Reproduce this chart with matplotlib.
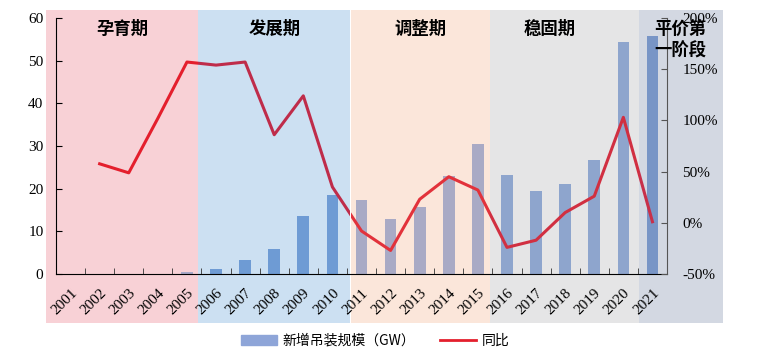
import matplotlib
matplotlib.use("Agg")
import matplotlib.pyplot as plt
from matplotlib.patches import Rectangle
from matplotlib.lines import Line2D
from matplotlib.patches import Patch
import numpy as np

# data
years = [str(y) for y in range(2001, 2022)]
capacity = [0, 0, 0, 0, 0.5, 1.2, 3.3, 5.9, 13.6, 18.6, 17.3, 12.8, 15.8, 23.0, 30.5,
            23.2, 19.5, 21.1, 26.7, 54.4, 55.8]
yoy = [np.nan, 57.6, 48.8, 102, 157, 154, 157, 86, 124, 35, -8, -27, 23, 45, 32,
       -24, -17, 10, 26, 103, 1]

# phases: name, left px, right px, band colour, bar colour, line colour
phase_names = ["孕育期", "发展期", "调整期", "稳固期", "平价第\n一阶段"]
phase_px = [(46, 198), (198, 350), (351, 490), (490, 639), (639, 723)]
phase_bg = ["#f8d1d6", "#cce0f2", "#fbe6da", "#e5e5e6", "#d3d8e2"]
phase_line = ["#e41f2d", "#bf2c4a", "#e2323b", "#d12f41", "#c8304a"]
bar_colors = ["#a9a9c8"] * 5 + ["#6e9bd4"] * 5 + ["#a9aac5"] * 5 + ["#8ea5cd"] * 5 + ["#7895c6"]

W, H = 766, 354
fig = plt.figure(figsize=(W / 100, H / 100), dpi=100)
serif = "Liberation Serif"
cjk = "Noto Sans CJK SC"

# background bands (figure coordinates)
band_top, band_bot = 10, 323
for (x0, x1), c in zip(phase_px, phase_bg):
    fig.patches.append(Rectangle((x0 / W, 1 - band_bot / H), (x1 - x0) / W, (band_bot - band_top) / H,
                                 transform=fig.transFigure, color=c, zorder=-5, lw=0))

ax = fig.add_axes([56 / W, 1 - 274 / H, (667 - 56) / W, (274 - 18) / H])
ax.patch.set_visible(False)
x = np.arange(len(years))
ax.bar(x, capacity, width=0.4, color=bar_colors, zorder=2)
ax.set_xlim(-0.5, len(years) - 0.5)
ax.set_ylim(0, 60)
ax.set_yticks(range(0, 61, 10))
ax.set_xticks(x)
ax.set_xticklabels(years, rotation=45, ha="right", rotation_mode="anchor", fontfamily=serif, fontsize=11)
ax.set_xticks(np.arange(-0.5, len(years), 1), minor=True)
ax.tick_params(axis="x", which="major", length=0, pad=9)
ax.tick_params(axis="x", which="minor", direction="in", length=4, color="#333")
ax.tick_params(axis="y", direction="in", length=4, pad=9)
for lab in ax.get_yticklabels():
    lab.set_fontfamily(serif)
    lab.set_fontsize(11)
ax.spines["top"].set_visible(False)
ax.spines["right"].set_visible(False)

ax2 = ax.twinx()
ax2.set_ylim(-50, 200)
ax2.set_yticks(range(-50, 201, 50))
ax2.set_yticklabels([f"{v}%" for v in range(-50, 201, 50)], fontfamily=serif, fontsize=11)
ax2.tick_params(axis="y", direction="in", length=4, color="#555", pad=11)
for s in ["top", "left", "bottom"]:
    ax2.spines[s].set_visible(False)
ax2.spines["right"].set_color("#555")

# line coloured by phase: draw once per band, clipped to the band
for (x0, x1), c in zip(phase_px, phase_line):
    ln, = ax2.plot(x, yoy, color=c, lw=2.2, zorder=3)
    clip = Rectangle((x0 / W, 0), (x1 - x0) / W, 1, transform=fig.transFigure)
    ln.set_clip_path(clip)

# phase titles
title_pos = [(122, 29), (275, 29), (420, 29), (550, 29), (680, 40)]
for name, (tx, ty) in zip(phase_names, title_pos):
    fig.text(tx / W, 1 - ty / H, name, ha="center", va="center", fontfamily=cjk,
             fontweight="bold", fontsize=12.5, linespacing=1.2, zorder=5)

handles = [Patch(color="#8ea5d8"), Line2D([0], [0], color="#e41f2d", lw=2)]
fig.legend(handles, ["新增吊装规模（GW）", "同比"], loc="center", bbox_to_anchor=(0.49, 0.037),
           ncol=2, frameon=False, prop={"family": cjk, "size": 10}, handlelength=2.6,
           columnspacing=1.8, handletextpad=0.4)

fig.savefig("out.png", dpi=100)
